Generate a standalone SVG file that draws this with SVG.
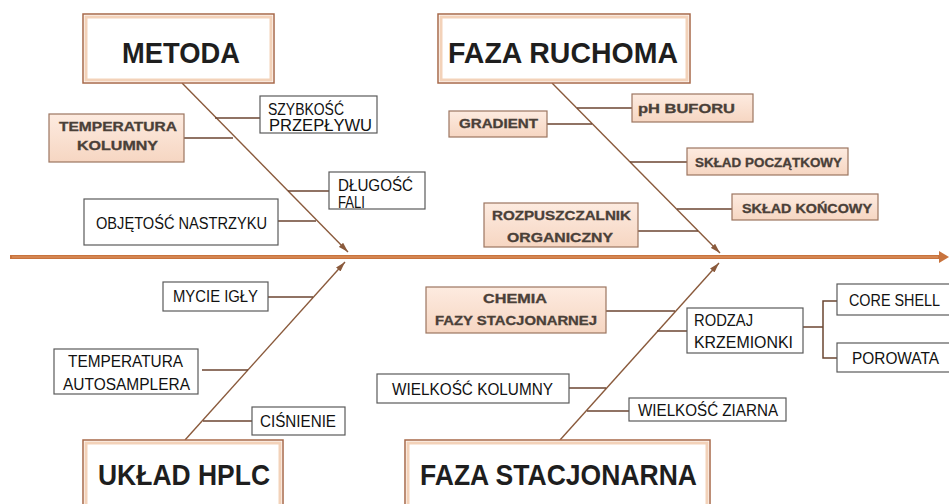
<svg xmlns="http://www.w3.org/2000/svg" width="949" height="504" viewBox="0 0 949 504">
<style>
.big{fill:#fff;stroke:#a8694a;stroke-width:1.5}
.glow{fill:none;stroke:#f3d2b9;stroke-width:3}
.wb{fill:#fff;stroke:#5a5a5a;stroke-width:1.2}
.ob{fill:url(#og);stroke:#9c7560;stroke-width:1.2}
.tt{font-family:"Liberation Sans",Arial,sans-serif;font-weight:bold;font-size:30px;fill:#1e1e1e}
.wt{font-family:"Liberation Sans",Arial,sans-serif;font-size:16px;fill:#111}
.ot{font-family:"Liberation Sans",Arial,sans-serif;font-weight:bold;font-size:12px;fill:#4a4038;stroke:#4a4038;stroke-width:0.3}
.diag{stroke:#8a5a3c;stroke-width:1.4;fill:none}
.cn{stroke:#6b4530;stroke-width:1.5;fill:none}
.spine{stroke:#c8733d;stroke-width:4;fill:none}
</style>
<defs>
<linearGradient id="og" x1="0" y1="0" x2="0" y2="1">
<stop offset="0" stop-color="#fdebe0"/>
<stop offset="1" stop-color="#f6d6c2"/>
</linearGradient>
<marker id="ah" viewBox="0 0 10 6" refX="10" refY="3" markerWidth="10" markerHeight="6" markerUnits="userSpaceOnUse" orient="auto">
<path d="M0,0 L10,3 L0,6 z" fill="#8a5a3c"/>
</marker>
</defs>

<g id="connectors">
<line class="spine" x1="10" y1="257" x2="941" y2="257"/>
<path d="M939,251 L949,257 L939,263 z" fill="#c8733d"/>
<line x1="12" y1="257" x2="938" y2="257" stroke="#e19a68" stroke-width="1"/>
<line class="diag" x1="182" y1="83" x2="348" y2="252" marker-end="url(#ah)"/>
<line class="diag" x1="552" y1="83" x2="720" y2="253" marker-end="url(#ah)"/>
<line class="diag" x1="185" y1="440" x2="345" y2="262" marker-end="url(#ah)"/>
<line class="diag" x1="560" y1="440" x2="719" y2="263" marker-end="url(#ah)"/>
<line class="cn" x1="215" y1="118" x2="260" y2="118"/>
<line class="cn" x1="184" y1="138" x2="233" y2="138"/>
<line class="cn" x1="288" y1="191" x2="329" y2="191"/>
<line class="cn" x1="273" y1="221" x2="316" y2="221"/>
<line class="cn" x1="577" y1="108" x2="632" y2="108"/>
<line class="cn" x1="547" y1="124" x2="592" y2="124"/>
<line class="cn" x1="630" y1="162" x2="687" y2="162"/>
<line class="cn" x1="677" y1="209" x2="732" y2="209"/>
<line class="cn" x1="638" y1="231" x2="698" y2="231"/>
<line class="cn" x1="268" y1="297" x2="313" y2="297"/>
<line class="cn" x1="202" y1="370" x2="248" y2="370"/>
<line class="cn" x1="203" y1="421" x2="252" y2="421"/>
<line class="cn" x1="606" y1="311" x2="675" y2="311"/>
<line class="cn" x1="657" y1="331" x2="687" y2="331"/>
<line class="cn" x1="562" y1="388" x2="606" y2="388"/>
<line class="cn" x1="587" y1="411" x2="629" y2="411"/>
<line class="cn" x1="773" y1="327" x2="823" y2="327"/>
<path class="cn" d="M837,301 H823 V358 H837"/>
</g>

<g id="metoda">
<rect class="big" x="83" y="14" width="191" height="69"/>
<rect class="glow" x="86" y="17" width="185" height="63"/>
<text class="tt" x="122" y="63" textLength="118" lengthAdjust="spacingAndGlyphs">METODA</text>
</g>
<g id="faza-ruchoma">
<rect class="big" x="438" y="14" width="252" height="69"/>
<rect class="glow" x="441" y="17" width="246" height="63"/>
<text class="tt" x="448" y="63" textLength="230" lengthAdjust="spacingAndGlyphs">FAZA RUCHOMA</text>
</g>
<g id="uklad-hplc">
<rect class="big" x="83" y="440" width="200" height="70"/>
<rect class="glow" x="86" y="443" width="194" height="70"/>
<text class="tt" x="98" y="485" textLength="172" lengthAdjust="spacingAndGlyphs">UKŁAD HPLC</text>
</g>
<g id="faza-stacjonarna">
<rect class="big" x="405" y="440" width="305" height="70"/>
<rect class="glow" x="408" y="443" width="299" height="70"/>
<text class="tt" x="420" y="485" textLength="277" lengthAdjust="spacingAndGlyphs">FAZA STACJONARNA</text>
</g>

<g id="szybkosc">
<rect class="wb" x="260" y="96" width="117" height="37"/>
<text class="wt" x="268" y="115" textLength="76" lengthAdjust="spacingAndGlyphs">SZYBKOŚĆ</text>
<text class="wt" x="269" y="131" textLength="103" lengthAdjust="spacingAndGlyphs">PRZEPŁYWU</text>
</g>
<g id="temp-kolumny">
<rect class="ob" x="49" y="114" width="135" height="48"/>
<text class="ot" x="59" y="131" textLength="118" lengthAdjust="spacingAndGlyphs">TEMPERATURA</text>
<text class="ot" x="77" y="150" textLength="81" lengthAdjust="spacingAndGlyphs">KOLUMNY</text>
</g>
<g id="dlugosc-fali">
<rect class="wb" x="329" y="172" width="96" height="37"/>
<text class="wt" x="338" y="191" textLength="75" lengthAdjust="spacingAndGlyphs">DŁUGOŚĆ</text>
<text class="wt" x="338" y="208" textLength="27" lengthAdjust="spacingAndGlyphs">FALI</text>
</g>
<g id="objetosc">
<rect class="wb" x="84" y="199" width="194" height="46"/>
<text class="wt" x="96" y="229" textLength="171" lengthAdjust="spacingAndGlyphs">OBJĘTOŚĆ NASTRZYKU</text>
</g>

<g id="ph-buforu">
<rect class="ob" x="632" y="94" width="121" height="28"/>
<text class="ot" x="638" y="113" textLength="97" lengthAdjust="spacingAndGlyphs">pH BUFORU</text>
</g>
<g id="gradient">
<rect class="ob" x="449" y="111" width="98" height="26"/>
<text class="ot" x="459" y="128" textLength="79" lengthAdjust="spacingAndGlyphs">GRADIENT</text>
</g>
<g id="sklad-poczatkowy">
<rect class="ob" x="687" y="148" width="161" height="27"/>
<text class="ot" x="695" y="167" textLength="147" lengthAdjust="spacingAndGlyphs">SKŁAD POCZĄTKOWY</text>
</g>
<g id="sklad-koncowy">
<rect class="ob" x="732" y="194" width="146" height="26"/>
<text class="ot" x="742" y="213" textLength="130" lengthAdjust="spacingAndGlyphs">SKŁAD KOŃCOWY</text>
</g>
<g id="rozpuszczalnik">
<rect class="ob" x="484" y="203" width="154" height="44"/>
<text class="ot" x="492" y="220" textLength="139" lengthAdjust="spacingAndGlyphs">ROZPUSZCZALNIK</text>
<text class="ot" x="507" y="242" textLength="106" lengthAdjust="spacingAndGlyphs">ORGANICZNY</text>
</g>

<g id="mycie-igly">
<rect class="wb" x="163" y="282" width="105" height="29"/>
<text class="wt" x="173" y="302" textLength="85" lengthAdjust="spacingAndGlyphs">MYCIE IGŁY</text>
</g>
<g id="temp-autosamplera">
<rect class="wb" x="54" y="349" width="144" height="45"/>
<text class="wt" x="68" y="367" textLength="115" lengthAdjust="spacingAndGlyphs">TEMPERATURA</text>
<text class="wt" x="63" y="390" textLength="127" lengthAdjust="spacingAndGlyphs">AUTOSAMPLERA</text>
</g>
<g id="cisnienie">
<rect class="wb" x="252" y="407" width="93" height="28"/>
<text class="wt" x="260" y="427" textLength="76" lengthAdjust="spacingAndGlyphs">CIŚNIENIE</text>
</g>

<g id="chemia">
<rect class="ob" x="426" y="287" width="180" height="46"/>
<text class="ot" x="483" y="303" textLength="64" lengthAdjust="spacingAndGlyphs">CHEMIA</text>
<text class="ot" x="435" y="325" textLength="162" lengthAdjust="spacingAndGlyphs">FAZY STACJONARNEJ</text>
</g>
<g id="rodzaj-krzemionki">
<rect class="wb" x="687" y="308" width="116" height="45"/>
<text class="wt" x="694" y="326" textLength="59" lengthAdjust="spacingAndGlyphs">RODZAJ</text>
<text class="wt" x="694" y="348" textLength="99" lengthAdjust="spacingAndGlyphs">KRZEMIONKI</text>
</g>
<g id="core-shell">
<rect class="wb" x="837" y="284" width="115" height="31"/>
<text class="wt" x="849" y="306" textLength="91" lengthAdjust="spacingAndGlyphs">CORE SHELL</text>
</g>
<g id="porowata">
<rect class="wb" x="837" y="343" width="115" height="29"/>
<text class="wt" x="852" y="364" textLength="87" lengthAdjust="spacingAndGlyphs">POROWATA</text>
</g>
<g id="wielkosc-kolumny">
<rect class="wb" x="377" y="374" width="192" height="29"/>
<text class="wt" x="392" y="395" textLength="161" lengthAdjust="spacingAndGlyphs">WIELKOŚĆ KOLUMNY</text>
</g>
<g id="wielkosc-ziarna">
<rect class="wb" x="629" y="398" width="157" height="23"/>
<text class="wt" x="638" y="416" textLength="140" lengthAdjust="spacingAndGlyphs">WIELKOŚĆ ZIARNA</text>
</g>
</svg>
